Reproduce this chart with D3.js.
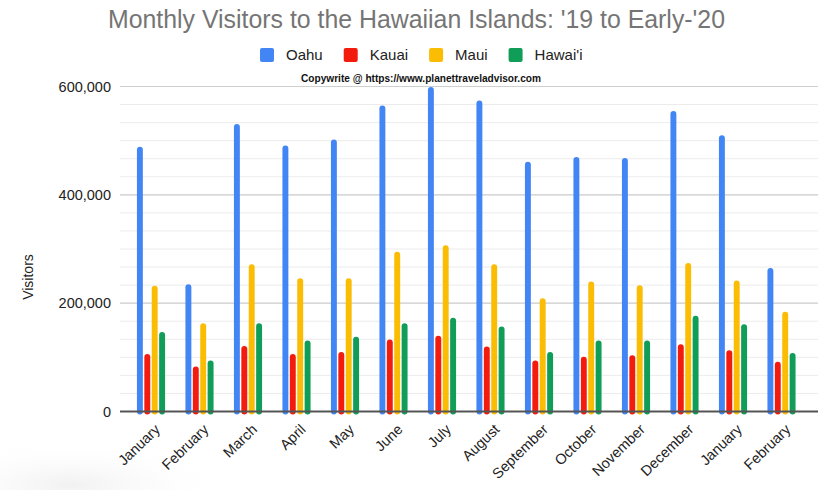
<!DOCTYPE html>
<html>
<head>
<meta charset="utf-8">
<script src="https://cdn.jsdelivr.net/npm/d3@7"></script>
<style>
  body { margin: 0; background: #fff; }
  svg { display: block; font-family: "Liberation Sans", Arial, sans-serif; }
</style>
</head>
<body>
<div id="chart"></div>
<script>
/** Chart values */
var months = ["January", "February", "March", "April", "May", "June", "July", "August",
              "September", "October", "November", "December", "January", "February"];
var seriesNames = ["Oahu", "Kauai", "Maui", "Hawai'i"];
var oahu   = [489000, 235000, 531000, 491000, 502000, 565000, 599000, 574000, 461000, 470000, 468000, 555000, 510000, 265000];
var kauai  = [106000,  83000, 121000, 106000, 110000, 133000, 140000, 120000,  94000, 101000, 104000, 124000, 113000,  92000];
var maui   = [232000, 163000, 272000, 246000, 246000, 295000, 307000, 272000, 209000, 240000, 233000, 274000, 242000, 184000];
var hawaii = [147000,  94000, 163000, 131000, 138000, 163000, 173000, 157000, 110000, 131000, 131000, 177000, 161000, 108000];
var yTicks = [0, 200000, 400000, 600000];
var colors = ["#4285f4", "#f31b0e", "#fbbc04", "#0f9d58"];

var width = 831, height = 490;
var plot = {left: 120, right: 818, top: 86.5, bottom: 411.5};

var svg = d3.select("#chart").append("svg")
  .attr("width", width)
  .attr("height", height);

/** faint smudge at the bottom-left corner of the photo */
var defs = svg.append("defs");
var grad = defs.append("radialGradient").attr("id", "smudge");
grad.append("stop").attr("offset", "0%").attr("stop-color", "#f1f1f1");
grad.append("stop").attr("offset", "100%").attr("stop-color", "#ffffff").attr("stop-opacity", 0);
svg.append("ellipse")
  .attr("cx", 70).attr("cy", 485).attr("rx", 160).attr("ry", 45)
  .attr("fill", "url(#smudge)");

/** Scales */
var x0 = d3.scaleBand()
  .domain(d3.range(months.length))
  .range([126.75, 805.75])
  .paddingInner(0.42)
  .paddingOuter(0.21);
var x1 = d3.scaleBand()
  .domain(d3.range(seriesNames.length))
  .range([0, x0.bandwidth()])
  .paddingInner(0.2);
var y = d3.scaleLinear()
  .domain([0, 600000])
  .range([plot.bottom, plot.top]);

/** Gridlines: minor every 1/6 of a major step, major every 200,000 */
var minor = d3.range(0, 19).map(function(i) { return i * 600000 / 18; });
svg.append("g").selectAll("line")
  .data(minor)
  .enter().append("line")
    .attr("x1", plot.left).attr("x2", plot.right)
    .attr("y1", function(d) { return y(d); })
    .attr("y2", function(d) { return y(d); })
    .attr("stroke", "#ececec")
    .attr("stroke-width", 1);
svg.append("g").selectAll("line")
  .data(yTicks.slice(1))
  .enter().append("line")
    .attr("x1", plot.left).attr("x2", plot.right)
    .attr("y1", function(d) { return y(d); })
    .attr("y2", function(d) { return y(d); })
    .attr("stroke", "#cfcfcf")
    .attr("stroke-width", 1.2);

/** Y axis labels */
var yAxis = svg.append("g")
  .attr("transform", "translate(" + (plot.left - 9) + ",0)")
  .call(d3.axisLeft(y).tickValues(yTicks).tickSize(0).tickFormat(d3.format(",")));
yAxis.select(".domain").remove();
yAxis.selectAll("text")
  .attr("font-size", 14.5)
  .attr("font-family", "Liberation Sans, Arial, sans-serif")
  .attr("fill", "#222")
  .attr("x", 0);

/** Bars */
var table = months.map(function(m, i) { return [oahu[i], kauai[i], maui[i], hawaii[i]]; });
var groups = svg.append("g").selectAll("g")
  .data(table)
  .enter().append("g")
    .attr("transform", function(d, i) { return "translate(" + x0(i) + ",0)"; });
groups.selectAll("rect")
  .data(function(d) { return d; })
  .enter().append("rect")
    .attr("x", function(d, j) { return x1(j); })
    .attr("y", function(d) { return y(d); })
    .attr("width", x1.bandwidth())
    .attr("height", function(d) { return y(0) - y(d) + 3; })
    .attr("rx", 3)
    .attr("fill", function(d, j) { return colors[j]; });

/** X axis baseline and rotated labels */
svg.append("line")
  .attr("x1", plot.left).attr("x2", plot.right)
  .attr("y1", plot.bottom).attr("y2", plot.bottom)
  .attr("stroke", "#555")
  .attr("stroke-width", 2);
svg.append("g").selectAll("text")
  .data(months)
  .enter().append("text")
    .attr("transform", function(d, i) {
      return "translate(" + (x0(i) + x0.bandwidth() / 2 + 10) + "," + (plot.bottom + 19) + ") rotate(-44)";
    })
    .attr("text-anchor", "end")
    .attr("font-size", 14.5)
    .attr("fill", "#222")
    .text(function(d) { return d; });

/** Y axis title */
svg.append("text")
  .attr("transform", "translate(33,277) rotate(-90)")
  .attr("text-anchor", "middle")
  .attr("font-size", 14)
  .attr("fill", "#222")
  .text("Visitors");

/** Chart title */
svg.append("text")
  .attr("x", 108)
  .attr("y", 27.5)
  .attr("font-size", 26)
  .attr("fill", "#757575")
  .attr("textLength", 617)
  .attr("lengthAdjust", "spacingAndGlyphs")
  .text("Monthly Visitors to the Hawaiian Islands: '19 to Early-'20");

/** Legend */
var legend = svg.append("g");
var lx = 260;
seriesNames.forEach(function(name, j) {
  legend.append("rect")
    .attr("x", lx).attr("y", 48)
    .attr("width", 14).attr("height", 14)
    .attr("rx", 2)
    .attr("fill", colors[j]);
  var t = legend.append("text")
    .attr("x", lx + 26).attr("y", 60)
    .attr("font-size", 15)
    .attr("fill", "#222")
    .text(name);
  lx += 26 + t.node().getComputedTextLength() + 21;
});

/** Copyright note */
svg.append("text")
  .attr("x", 301)
  .attr("y", 81.5)
  .attr("font-size", 10)
  .attr("font-weight", "bold")
  .attr("fill", "#111")
  .attr("textLength", 240)
  .attr("lengthAdjust", "spacingAndGlyphs")
  .text("Copywrite @ https://www.planettraveladvisor.com");
</script>
</body>
</html>
